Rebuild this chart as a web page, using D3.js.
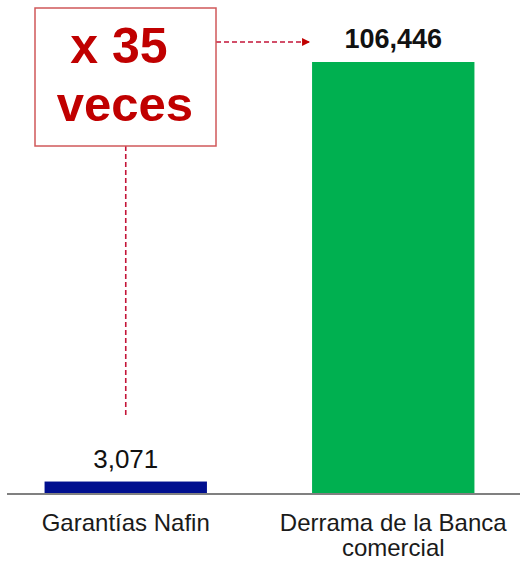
<!DOCTYPE html>
<html>
<head>
<meta charset="utf-8">
<script src="https://cdn.jsdelivr.net/npm/d3@7"></script>
<style>
  body { margin: 0; background: #fff; }
  svg { display: block; font-family: Arial, "Liberation Sans", sans-serif; }
</style>
</head>
<body>
<div id="chart"></div>
<script>
const categories = ['Garantías Nafin', 'Derrama de la Banca comercial'];
const labelLines = [['Garantías Nafin'], ['Derrama de la Banca', 'comercial']];
const values = [3071, 106446];
const barColors = ['#000f8f', '#00b050'];
const calloutLines = ['x 35', 'veces'];

const width = 520, height = 562;
const baseY = 494;

const svg = d3.select('#chart').append('svg')
  .attr('width', width)
  .attr('height', height);

const x = d3.scaleBand()
  .domain(categories)
  .range([-8, 527])
  .paddingInner(0.393)
  .paddingOuter(0.1965);

const y = d3.scaleLinear()
  .domain([0, d3.max(values)])
  .range([baseY, 62]);

const fmt = d3.format(',');

// bars
svg.selectAll('.bar')
  .data(values)
  .enter().append('rect')
  .attr('class', 'bar')
  .attr('x', (d, i) => x(categories[i]))
  .attr('y', d => y(d))
  .attr('width', x.bandwidth())
  .attr('height', d => y(0) - y(d))
  .style('fill', (d, i) => barColors[i]);

// axis line
svg.append('line')
  .attr('x1', 7).attr('x2', width)
  .attr('y1', baseY).attr('y2', baseY)
  .attr('stroke', '#808080')
  .attr('stroke-width', 2);

// value labels
svg.selectAll('.value')
  .data(values)
  .enter().append('text')
  .attr('class', 'value')
  .attr('x', (d, i) => x(categories[i]) + x.bandwidth() / 2)
  .attr('y', d => y(d) - 14)
  .attr('text-anchor', 'middle')
  .attr('font-size', (d, i) => i === 1 ? '27px' : '26px')
  .attr('font-weight', (d, i) => i === 1 ? 'bold' : 'normal')
  .attr('fill', '#111')
  .text(d => fmt(d));

// category labels
const cat = svg.selectAll('.cat')
  .data(labelLines)
  .enter().append('text')
  .attr('class', 'cat')
  .attr('x', (d, i) => x(categories[i]) + x.bandwidth() / 2)
  .attr('y', 531)
  .attr('text-anchor', 'middle')
  .attr('font-size', '24px')
  .attr('fill', '#1a1a1a');

cat.selectAll('tspan')
  .data(d => d)
  .enter().append('tspan')
  .attr('x', function () { return d3.select(this.parentNode).attr('x'); })
  .attr('dy', (d, i) => i === 0 ? 0 : 25)
  .text(d => d);

// callout
const cx = x(categories[0]) + x.bandwidth() / 2;
const red = '#c00000';
const dashRed = '#c41438';

svg.append('defs').append('marker')
  .attr('id', 'arrow')
  .attr('viewBox', '0 0 10 10')
  .attr('refX', 10).attr('refY', 5)
  .attr('markerWidth', 9).attr('markerHeight', 8)
  .attr('markerUnits', 'userSpaceOnUse')
  .attr('orient', 'auto')
  .append('path')
  .attr('d', 'M0,0L10,5L0,10Z')
  .attr('fill', red);

svg.append('line')
  .attr('x1', cx).attr('x2', cx)
  .attr('y1', 146).attr('y2', 415)
  .attr('stroke', dashRed)
  .attr('stroke-width', 1.6)
  .attr('stroke-dasharray', '5,3');

svg.append('line')
  .attr('x1', 216).attr('x2', x(categories[1]) - 2)
  .attr('y1', 42).attr('y2', 42)
  .attr('stroke', dashRed)
  .attr('stroke-width', 1.6)
  .attr('stroke-dasharray', '5,3')
  .attr('marker-end', 'url(#arrow)');

svg.append('rect')
  .attr('x', 35).attr('y', 8)
  .attr('width', 181).attr('height', 138)
  .attr('fill', '#fff')
  .attr('stroke', '#d0585a')
  .attr('stroke-width', 1.5);

svg.selectAll('.callout')
  .data(calloutLines)
  .enter().append('text')
  .attr('class', 'callout')
  .attr('x', (d, i) => i === 0 ? 119 : 125)
  .attr('y', (d, i) => 63 + i * 58)
  .attr('text-anchor', 'middle')
  .attr('font-size', (d, i) => i === 0 ? '50px' : '49px')
  .attr('font-weight', 'bold')
  .attr('fill', red)
  .text(d => d);
</script>
</body>
</html>
